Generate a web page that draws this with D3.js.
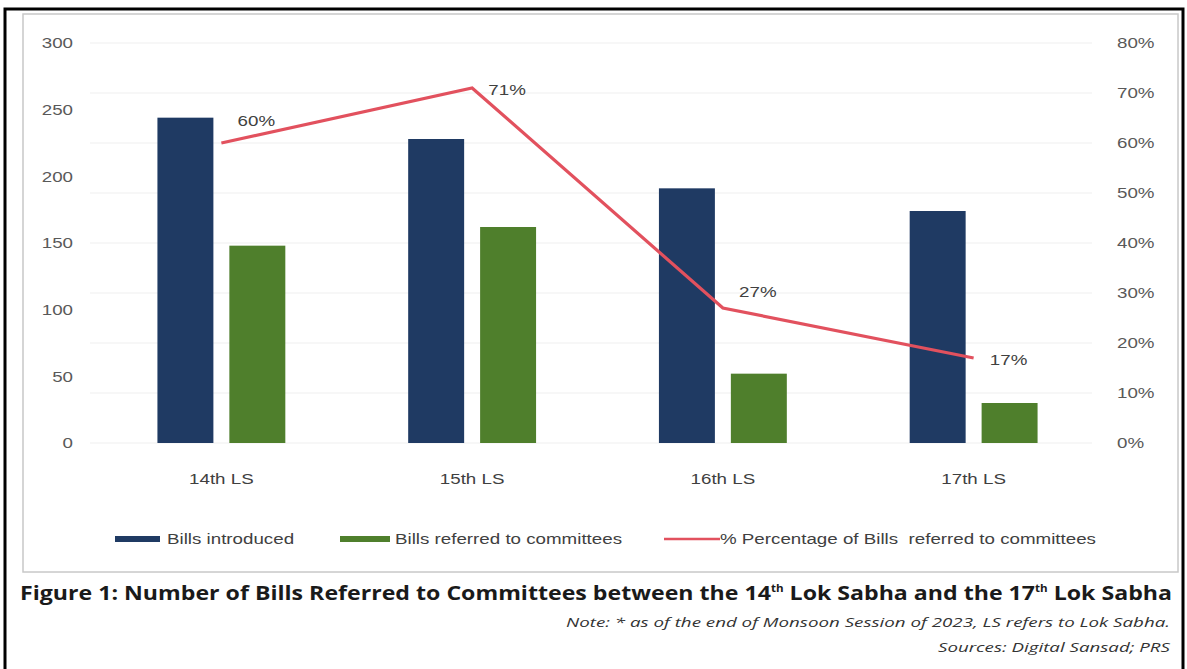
<!DOCTYPE html>
<html><head><meta charset="utf-8">
<script src="https://cdn.jsdelivr.net/npm/d3@7"></script>
<style>body{margin:0;background:#fff}svg{display:block}</style>
</head><body>
<svg id="c" width="1187" height="669"></svg>
<script>
const categories = ["14th LS","15th LS","16th LS","17th LS"];
const billsIntroduced = [244, 228, 191, 174];
const billsReferred = [148, 162, 52, 30];
const pctReferred = [60, 71, 27, 17];
const leftTicks = [0,50,100,150,200,250,300];
const rightTicks = [0,10,20,30,40,50,60,70,80];
const seriesNames = ["Bills introduced","Bills referred to committees","% Percentage of Bills  referred to committees"];

const svg = d3.select("#c");
const navy = "#1f3a63", green = "#4f7f2c", red = "#e2515e";
const tickFont = "Liberation Sans, Arial, sans-serif";
const SX = "scale(1.25,1)";

// outer black border
svg.append("path").attr("d","M5,669 L5,9 L1183,9 L1183,669").attr("fill","none").attr("stroke","#000").attr("stroke-width",3);
// grey frame
svg.append("rect").attr("x",23).attr("y",14).attr("width",1155).attr("height",558).attr("fill","#fff").attr("stroke","#c8c8c8").attr("stroke-width",1.5);

const y = d3.scaleLinear().domain([0,300]).range([443,43]);
const y2 = d3.scaleLinear().domain([0,80]).range([443,43]);
const x = d3.scaleBand().domain(categories).range([96,1099]);
const xi = d3.scaleBand().domain([0,1]).range([0,x.bandwidth()]).paddingInner(0.222).paddingOuter(0.854);

// gridlines
svg.append("g").selectAll("line").data(rightTicks).join("line")
  .attr("x1",90).attr("x2",1092).attr("y1",d=>y2(d)).attr("y2",d=>y2(d))
  .attr("stroke","#efefef").attr("stroke-width",1);

// left axis
const la = svg.append("g").attr("transform","translate(73,0)")
  .call(d3.axisLeft(y).tickValues(leftTicks).tickSize(0).tickPadding(0));
la.select(".domain").remove();
la.selectAll("text").attr("font-family",tickFont).attr("font-size",15).attr("fill","#595959").attr("transform",SX);
// right axis
const ra = svg.append("g").attr("transform","translate(1117,0)")
  .call(d3.axisRight(y2).tickValues(rightTicks).tickSize(0).tickPadding(0).tickFormat(d=>d+"%"));
ra.select(".domain").remove();
ra.selectAll("text").attr("font-family",tickFont).attr("font-size",15).attr("fill","#595959").attr("transform",SX);
// x axis
const xa = svg.append("g").attr("transform","translate(0,473)")
  .call(d3.axisBottom(x).tickSize(0).tickPadding(0));
xa.select(".domain").remove();
xa.selectAll("text").attr("font-family",tickFont).attr("font-size",15).attr("fill","#404040").attr("transform",SX);

// bars
const g = svg.append("g");
g.selectAll("rect.a").data(billsIntroduced).join("rect").attr("class","a")
  .attr("x",(d,i)=>x(categories[i])+xi(0)).attr("width",xi.bandwidth())
  .attr("y",d=>y(d)).attr("height",d=>y(0)-y(d)).attr("fill",navy);
g.selectAll("rect.b").data(billsReferred).join("rect").attr("class","b")
  .attr("x",(d,i)=>x(categories[i])+xi(1)).attr("width",xi.bandwidth())
  .attr("y",d=>y(d)).attr("height",d=>y(0)-y(d)).attr("fill",green);

// line
const cx = i => x(categories[i]) + x.bandwidth()/2;
const line = d3.line().x((d,i)=>cx(i)).y(d=>y2(d));
svg.append("path").datum(pctReferred).attr("d",line).attr("fill","none")
  .attr("stroke",red).attr("stroke-width",3.2).attr("stroke-linejoin","miter");

// labels
const labelDy = [-22, 2, -16, 2];
svg.append("g").selectAll("text").data(pctReferred).join("text")
  .attr("transform",(d,i)=>`translate(${cx(i)+35},${y2(d)+labelDy[i]}) ${SX}`).attr("dy","0.35em")
  .attr("text-anchor","middle").attr("font-family",tickFont).attr("font-size",15).attr("fill","#404040")
  .text(d=>d+"%");

// legend
const lg = svg.append("g").attr("font-family",tickFont).attr("font-size",15).attr("fill","#404040");
lg.append("rect").attr("x",115).attr("y",536).attr("width",45).attr("height",6).attr("fill",navy);
lg.append("text").attr("transform",`translate(167,539) ${SX}`).attr("dy","0.35em").text(seriesNames[0]);
lg.append("rect").attr("x",340).attr("y",536).attr("width",50).attr("height",6).attr("fill",green);
lg.append("text").attr("transform",`translate(395,539) ${SX}`).attr("dy","0.35em").text(seriesNames[1]);
lg.append("line").attr("x1",664).attr("x2",720).attr("y1",539).attr("y2",539).attr("stroke",red).attr("stroke-width",2.5);
lg.append("text").attr("transform",`translate(720,539) ${SX}`).attr("dy","0.35em").attr("xml:space","preserve").text(seriesNames[2]);

// title
const t = svg.append("text").attr("x",20).attr("y",600).attr("font-family","Open Sans, sans-serif")
  .attr("font-weight",700).attr("font-size",20).attr("fill","#1a1a1a")
  .attr("textLength",1152).attr("lengthAdjust","spacingAndGlyphs");
t.append("tspan").text("Figure 1: Number of Bills Referred to Committees between the 14");
t.append("tspan").attr("font-size",10).attr("dy",-8).text("th");
t.append("tspan").attr("dy",8).text(" Lok Sabha and the 17");
t.append("tspan").attr("font-size",10).attr("dy",-8).text("th");
t.append("tspan").attr("dy",8).text(" Lok Sabha");

svg.append("text").attr("x",566).attr("y",627)
  .attr("font-family","Open Sans, sans-serif").attr("font-style","italic").attr("font-size",13).attr("fill","#333")
  .attr("textLength",604).attr("lengthAdjust","spacingAndGlyphs")
  .text("Note: * as of the end of Monsoon Session of 2023, LS refers to Lok Sabha.");
svg.append("text").attr("x",938).attr("y",652)
  .attr("font-family","Open Sans, sans-serif").attr("font-style","italic").attr("font-size",13).attr("fill","#333")
  .attr("textLength",232).attr("lengthAdjust","spacingAndGlyphs")
  .text("Sources: Digital Sansad; PRS");
</script>
</body></html>
